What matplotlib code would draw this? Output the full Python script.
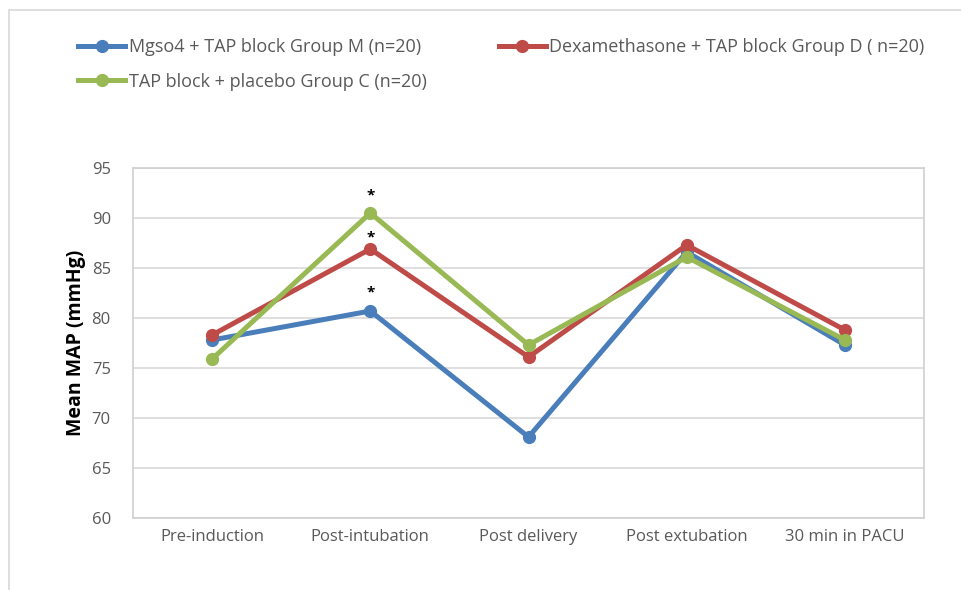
import matplotlib
matplotlib.use("Agg")
import matplotlib.pyplot as plt
from matplotlib.patches import Rectangle

plt.rcParams['font.family'] = ['Open Sans', 'DejaVu Sans']

categories = ["Pre-induction", "Post-intubation", "Post delivery", "Post extubation", "30 min in PACU"]
group_m = [77.8, 80.7, 68.1, 86.6, 77.3]
group_d = [78.3, 86.9, 76.1, 87.3, 78.8]
group_c = [75.9, 90.5, 77.3, 86.1, 77.8]
labels = ["Mgso4 + TAP block Group M (n=20)",
          "Dexamethasone + TAP block Group D ( n=20)",
          "TAP block + placebo Group C (n=20)"]
colors = ["#4A7EBB", "#BE4B48", "#98B954"]
yticks = [60, 65, 70, 75, 80, 85, 90, 95]

txt = "#595959"

fig = plt.figure(figsize=(9.61, 5.90), dpi=100)
# outer chart frame
fig.patches.append(Rectangle((9 / 961, -0.1), 1.1, 1.1 - 10 / 590, transform=fig.transFigure,
                             fill=False, edgecolor="#D9D9D9", linewidth=1.2))

ax = fig.add_axes([133 / 961, 72 / 590, 791 / 961, 350 / 590])
x = list(range(len(categories)))
lines = []
for vals, c, lab in zip([group_m, group_d, group_c], colors, labels):
    ln, = ax.plot(x, vals, color=c, linewidth=3.6, marker="o", markersize=8.5,
                  label=lab, solid_joinstyle="round", zorder=3)
    lines.append(ln)

# significance markers at post-intubation (offset in points above each point)
for vals, off in [(group_c, 7.5), (group_d, 3), (group_m, 8.5)]:
    ax.annotate("*", (1, vals[1]), xytext=(0, off), textcoords="offset points",
                ha="center", va="bottom", fontsize=11, fontweight="bold", color="black")

ax.set_xlim(-0.5, len(categories) - 0.5)
ax.set_ylim(60, 95)
ax.set_yticks(yticks)
ax.set_xticks(x)
ax.set_xticklabels(categories)
ax.tick_params(axis="x", length=0, labelsize=12, colors=txt, pad=8)
ax.tick_params(axis="y", length=0, labelsize=12, colors=txt, pad=16)
ax.grid(axis="y", color="#D9D9D9", linewidth=1.2)
ax.set_axisbelow(True)
for s in ax.spines.values():
    s.set_color("#D0D0D0")
    s.set_linewidth(1.2)
ax.set_ylabel("Mean MAP (mmHg)", fontsize=14, fontweight="bold", color="black", labelpad=4)

# column-wise fill: M and C in first column, D in second
fig.legend(handles=[lines[0], lines[2], lines[1]], loc="upper left",
           bbox_to_anchor=(62 / 961, 1 - 22 / 590), ncol=2,
           frameon=False, fontsize=13, labelcolor=txt, handlelength=2.6, handletextpad=0.2,
           columnspacing=4.0, labelspacing=0.9)

fig.savefig("out.png", dpi=100)
